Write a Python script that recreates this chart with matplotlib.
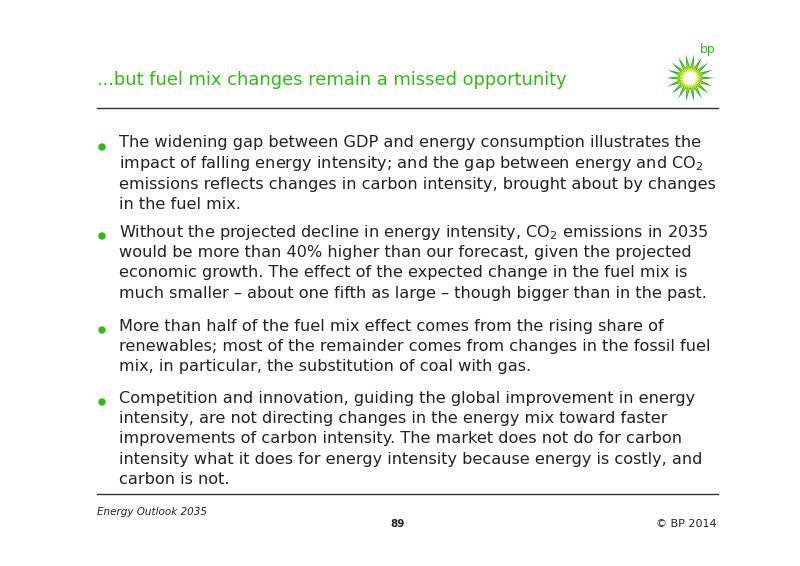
import matplotlib
matplotlib.use("Agg")
import matplotlib.pyplot as plt
from matplotlib.patches import Polygon, Circle
import numpy as np

title = "...but fuel mix changes remain a missed opportunity"
bullets = [
    ["The widening gap between GDP and energy consumption illustrates the",
     "impact of falling energy intensity; and the gap between energy and CO$_2$",
     "emissions reflects changes in carbon intensity, brought about by changes",
     "in the fuel mix."],
    ["Without the projected decline in energy intensity, CO$_2$ emissions in 2035",
     "would be more than 40% higher than our forecast, given the projected",
     "economic growth. The effect of the expected change in the fuel mix is",
     "much smaller \u2013 about one fifth as large \u2013 though bigger than in the past."],
    ["More than half of the fuel mix effect comes from the rising share of",
     "renewables; most of the remainder comes from changes in the fossil fuel",
     "mix, in particular, the substitution of coal with gas."],
    ["Competition and innovation, guiding the global improvement in energy",
     "intensity, are not directing changes in the energy mix toward faster",
     "improvements of carbon intensity. The market does not do for carbon",
     "intensity what it does for energy intensity because energy is costly, and",
     "carbon is not."],
]
bullet_tops = [143, 232, 326, 398]

fig = plt.figure(figsize=(8, 5.66), dpi=100)
ax = fig.add_axes([0, 0, 1, 1])
ax.set_xlim(0, 800); ax.set_ylim(566, 0); ax.axis("off")

green = "#2bbf0f"
ax.text(97, 80, title, color=green, fontsize=12.9, va="center", ha="left", family="DejaVu Sans")
ax.plot([97, 718], [108, 108], color="#333333", lw=1)
ax.plot([97, 718], [494, 494], color="#333333", lw=1)

for top, lines in zip(bullet_tops, bullets):
    ax.add_patch(Circle((102, top + 4), 3, color=green))
    for i, ln in enumerate(lines):
        ax.text(119, top + i * 20.5, ln, fontsize=11.6, va="center", ha="left",
                color="#222222", family="DejaVu Sans")

ax.text(97, 512, "Energy Outlook 2035", fontsize=7.5, style="italic", va="center", color="#222222")
ax.text(398, 524, "89", fontsize=7.5, va="center", ha="center", fontweight="bold", color="#222222")
ax.text(717, 524, "\u00a9 BP 2014", fontsize=8, va="center", ha="right", color="#222222")

# BP helios logo (decorative)
cx, cy = 690, 78
n = 18
for k in range(n):
    a = 2 * np.pi * k / n
    da = np.pi / n
    for r_out, r_in, col in [(24, 10, "#1aa71a"), (18, 8, "#7fd41a"), (13, 6, "#ffe600")]:
        pts = [(cx + r_in * np.cos(a - da), cy + r_in * np.sin(a - da)),
               (cx + r_out * np.cos(a), cy + r_out * np.sin(a)),
               (cx + r_in * np.cos(a + da), cy + r_in * np.sin(a + da))]
        ax.add_patch(Polygon(pts, closed=True, color=col, lw=0))
ax.add_patch(Circle((cx, cy), 6, color="white"))
ax.text(708, 49, "bp", color=green, fontsize=9, ha="center", va="center")

fig.savefig("out.png", dpi=100)
